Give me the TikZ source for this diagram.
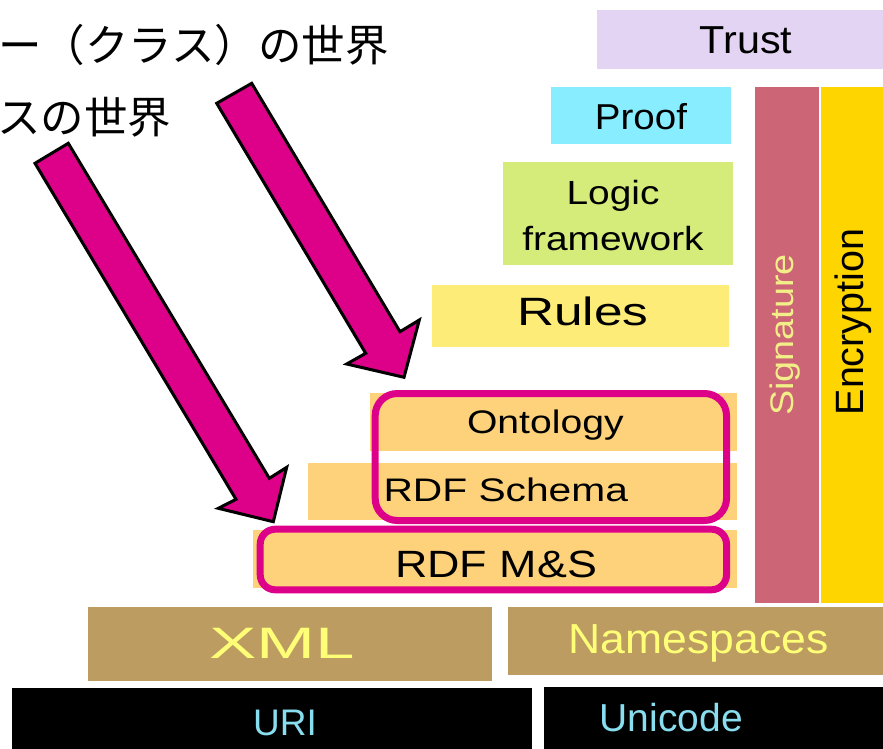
\documentclass[tikz,border=0pt]{standalone}
\usepackage{fontspec}
\setmainfont{Liberation Sans}
\newfontfamily\jpfont{Noto Sans CJK JP}
\usepackage{tikz}
\usetikzlibrary{positioning}

\definecolor{trustC}{HTML}{E2D4F2}
\definecolor{proofC}{HTML}{88EEFF}
\definecolor{logicC}{HTML}{D5EB7A}
\definecolor{rulesC}{HTML}{FDEC78}
\definecolor{rdfC}{HTML}{FDD27A}
\definecolor{sigC}{HTML}{CC6677}
\definecolor{encC}{HTML}{FFD500}
\definecolor{xmlC}{HTML}{BC9C60}
\definecolor{magentaC}{HTML}{DD0088}
\definecolor{paleyellow}{HTML}{FFFF77}
\definecolor{sigtext}{HTML}{F2EE88}
\definecolor{uritext}{HTML}{88DDEE}

% size, horizontal stretch, text
\newcommand{\layertext}[3]{\scalebox{#2}[1]{\fontsize{#1pt}{#1pt}\selectfont #3}}

\begin{document}
\begin{tikzpicture}[x=1pt,y=-1pt,
	lbl/.style={anchor=base, inner sep=0pt},
	pinkframe/.style={draw=magentaC, line width=7pt, rounded corners=#1},
	bigarrow/.style={fill=magentaC, draw=black, line width=3pt, line join=miter}]
	
	\useasboundingbox (0,0) rectangle (883,749);
	
	% Layers
	\fill[trustC] (596.7,10) rectangle (883,69.3);
	\fill[proofC] (551,87) rectangle (731,144);
	\fill[logicC] (502.7,161.7) rectangle (732.7,265);
	\fill[rulesC] (431.7,285) rectangle (729.3,346.7);
	\fill[rdfC] (370,393.3) rectangle (736.7,450.7);
	\fill[rdfC] (308.3,462.7) rectangle (736.7,520);
	\fill[rdfC] (253.3,530) rectangle (736.7,588);
	\fill[sigC] (755,86.7) rectangle (819,603);
	\fill[encC] (821,86.7) rectangle (883,603);
	\fill[xmlC] (88.3,607.3) rectangle (492.3,680.7);
	\fill[xmlC] (507.7,606.7) rectangle (883,675);
	\fill[black] (12,688.3) rectangle (532.3,749);
	\fill[black] (544.3,686.7) rectangle (883,749);
	
	% Layer names
	\node[lbl] (trust) at (746,53.3) {\layertext{39}{1.06}{Trust}};
	\node[lbl] (proof) at (641,129) {\layertext{36}{1.07}{Proof}};
	\node[lbl] (logic) at (613,204) {\scalebox{1.16}[1]{\fontsize{33.5pt}{46pt}\selectfont
		\begin{tabular}[t]{@{}c@{}}Logic\\framework\end{tabular}}};
	\node[lbl] (rules) at (583,325) {\layertext{39.5}{1.3}{Rules}};
	\node[lbl] (ontology) at (545.3,433.3) {\layertext{32.6}{1.2}{Ontology}};
	\node[lbl, anchor=base west] (rdfs) at (383.3,501.7) {\layertext{32.6}{1.25}{RDF Schema}};
	\node[lbl, anchor=base west] (rdfms) at (395,577.3) {\layertext{38}{1.18}{RDF M\&S}};
	\node[lbl, text=paleyellow] (xml) at (282,658.3) {\layertext{44}{1.61}{XML}};
	\node[lbl, text=paleyellow] (ns) at (698.7,653.3) {\layertext{42}{1.06}{Namespaces}};
	\node[lbl, text=uritext] (uri) at (285,735) {\layertext{37}{1}{URI}};
	\node[lbl, text=uritext] (unicode) at (671.3,731.7) {\layertext{39}{1}{Unicode}};
	\node[lbl, rotate=90, text=sigtext] (signature) at (793.3,335) {\layertext{32.6}{1.16}{Signature}};
	\node[lbl, rotate=90] (encryption) at (863.3,322) {\layertext{39.5}{1}{Encryption}};
	
	% Frames round the ontology and RDF layers
	\draw[pinkframe=22pt] (375.2,393.5) rectangle (726.5,520.5);
	\draw[pinkframe=15pt] (260.2,529.2) rectangle (726.5,589.8);
	
	% Arrows
	\draw[bigarrow] (216.7,103.3) -- (251.7,83.3) -- (400,331.7) -- (419.3,320)
		-- (404,377.3) -- (346.7,364) -- (365.7,353.3) -- cycle;
	\draw[bigarrow] (35,163.3) -- (68.3,143.3) -- (269.3,478.3) -- (286.7,467.3)
		-- (273.3,521.7) -- (218.3,508.3) -- (236,499.3) -- cycle;
	
	% Captions
	\node[lbl, anchor=base west, font=\jpfont\fontsize{43.5pt}{43.5pt}\selectfont] (classworld) at (-2,61.3) {ー（クラス）の世界};
	\node[lbl, anchor=base west, font=\jpfont\fontsize{43.5pt}{43.5pt}\selectfont] (instworld) at (-3,133.3) {スの世界};
	
\end{tikzpicture}
\end{document}
